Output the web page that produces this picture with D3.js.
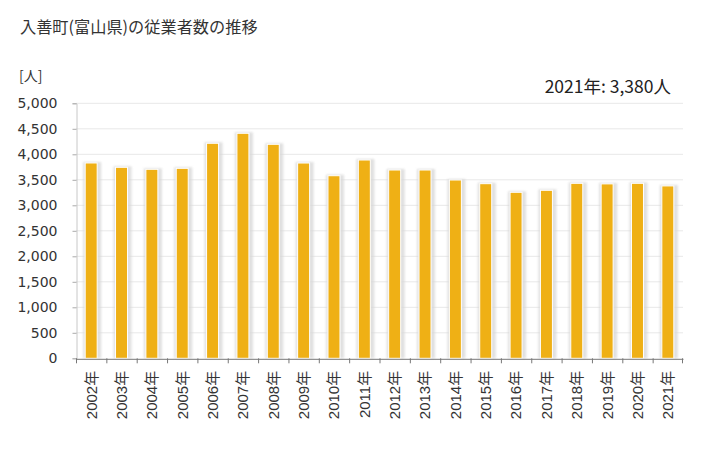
<!DOCTYPE html>
<html><head><meta charset="utf-8">
<script src="https://cdn.jsdelivr.net/npm/d3@7"></script>
<style>
html,body{margin:0;padding:0;background:#fff;}
svg{display:block;}
</style>
</head><body>
<svg id="chart" width="728" height="450"></svg>
<script>
const years = ["2002年","2003年","2004年","2005年","2006年","2007年","2008年","2009年","2010年","2011年","2012年","2013年","2014年","2015年","2016年","2017年","2018年","2019年","2020年","2021年"];
const workers = [3830,3745,3706,3725,4216,4412,4196,3829,3580,3888,3692,3692,3496,3424,3255,3294,3431,3420,3431,3380];
const yTicks = [0,500,1000,1500,2000,2500,3000,3500,4000,4500,5000];
const titleText = "入善町(富山県)の従業者数の推移";
const unitText = "[人]";
const noteText = "2021年: 3,380人";

const svg = d3.select("#chart");
const m = {left:76, right:683, top:103.3, bottom:358.3};
const numFont = "'DejaVu Sans', 'Noto Sans CJK JP', sans-serif";
const xFont = "'Liberation Sans', 'Noto Sans CJK JP', sans-serif";
const jpFont = "'Noto Sans CJK JP', 'DejaVu Sans', sans-serif";

const defs = svg.append("defs");
defs.append("filter").attr("id","blur").attr("x","-50%").attr("y","-10%").attr("width","200%").attr("height","120%")
  .append("feGaussianBlur").attr("stdDeviation", 1.2);

const x = d3.scaleBand().domain(years).range([m.left, m.right]).padding(0);
const y = d3.scaleLinear().domain([0,5000]).range([m.bottom, m.top]);

// gridlines
svg.append("g").selectAll("line").data(yTicks.filter(d=>d>0)).join("line")
  .attr("x1", m.left).attr("x2", m.right)
  .attr("y1", d=>y(d)).attr("y2", d=>y(d))
  .attr("stroke", "#e8e8e8").attr("stroke-width", 1);

// y axis
const yAxis = svg.append("g").attr("transform", `translate(${m.left+0.5},0)`)
  .call(d3.axisLeft(y).tickValues(yTicks).tickFormat(d3.format(",")).tickSize(4).tickPadding(15));
yAxis.attr("font-family", null).attr("font-size", null);
yAxis.select(".domain").attr("stroke", "#c8c8c8");
yAxis.selectAll(".tick line").attr("stroke", "#aaa");
yAxis.selectAll("text").style("font-family", numFont).style("font-size", "14px").attr("fill", "#333");

// bars with shadow
const bw = 12;
const g = svg.append("g");
g.selectAll("rect.sh").data(workers).join("rect").attr("class","sh")
  .attr("x", (d,i)=>x(years[i]) + x.bandwidth()/2 - bw/2 - 2)
  .attr("width", bw + 6)
  .attr("y", d=>y(d) - 1)
  .attr("height", d=>m.bottom - y(d) + 1)
  .attr("fill", "#d6d6d6")
  .attr("opacity", 0.75)
  .attr("filter", "url(#blur)");
g.selectAll("rect.bar").data(workers).join("rect").attr("class","bar")
  .attr("x", (d,i)=>x(years[i]) + x.bandwidth()/2 - bw/2)
  .attr("width", bw)
  .attr("y", d=>y(d))
  .attr("height", d=>m.bottom - y(d))
  .attr("fill", "#efb015")
  .attr("stroke", "#fff").attr("stroke-width", 1);

// x axis
const xAxis = svg.append("g").attr("transform", `translate(0,${m.bottom+0.5})`)
  .call(d3.axisBottom(x).tickSize(0).tickPadding(0));
xAxis.attr("font-family", null).attr("font-size", null);
xAxis.select(".domain").attr("stroke", "#777");
xAxis.selectAll(".tick text")
  .style("font-family", xFont).style("font-size", "15px").attr("fill", "#333")
  .attr("transform", "rotate(-90)").attr("text-anchor", "end")
  .attr("x", -12).attr("y", 0).attr("dy", "0.36em");
svg.append("g").selectAll("line").data(years.concat([null])).join("line")
  .attr("x1", (d,i)=> i<years.length ? x(d)+0.5 : m.right-0.5)
  .attr("x2", (d,i)=> i<years.length ? x(d)+0.5 : m.right-0.5)
  .attr("y1", m.bottom).attr("y2", m.bottom+5)
  .attr("stroke", "#777");

// texts
svg.append("text").attr("x", 20).attr("y", 33).text(titleText)
  .style("font-family", jpFont).style("font-size", "16.2px").attr("fill", "#333");
svg.append("text").attr("x", 19).attr("y", 81).text(unitText)
  .style("font-family", jpFont).style("font-size", "14px").attr("fill", "#333");
svg.append("text").attr("x", 671).attr("y", 93).attr("text-anchor","end").text(noteText)
  .style("font-family", jpFont).style("font-size", "17.5px").attr("fill", "#222");
</script>
</body></html>
